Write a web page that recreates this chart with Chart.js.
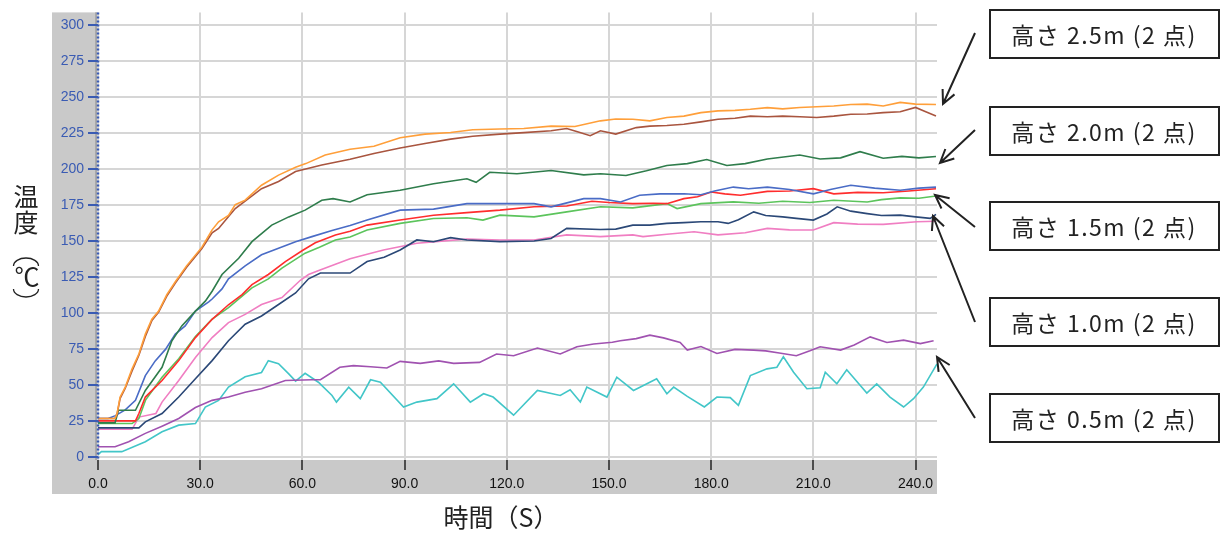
<!DOCTYPE html>
<html>
<head>
<meta charset="utf-8">
<script src="https://cdn.jsdelivr.net/npm/chart.js"></script>
<style>
  body { margin: 0; background: #fff; }
  #chart { display: block; }
</style>
</head>
<body>
<canvas id="chart" width="1226" height="533"></canvas>
<script>
// time (s) / temperature (℃) readings per thermocouple
const orangeT = [0, 5, 5.6, 6.5, 8, 10, 12, 13.9, 15.8, 17.8, 20.2, 22.7, 26, 30.5, 33.5, 35.4, 38.3, 40.3, 43.2, 48, 53, 58, 61, 66.7, 74, 81, 88.7, 96, 103.5, 110, 118, 125, 133, 140, 147.5, 152, 157, 162, 167, 172, 177, 182, 187, 191.5, 196.5, 201, 206, 211, 216, 221, 225.8, 230.5, 235.5, 240, 246];
const orangeV = [27, 27, 30.6, 42, 48.8, 61.5, 71.8, 85.6, 95.9, 101.6, 113.1, 122, 133, 146, 158, 163.6, 168, 175.5, 178.6, 189, 196, 201.5, 204, 210, 214, 216, 222, 224.5, 225.6, 227.5, 228, 228.4, 230, 229.8, 233.7, 235, 234.8, 233.7, 236, 237, 239.4, 240.6, 241, 241.7, 242.9, 242, 243, 243.5, 244, 245, 245.3, 244, 246.5, 245.3, 245];

const brownT = [0, 5, 5.6, 6.5, 8, 10, 12, 13.9, 15.8, 17.8, 20.2, 22.7, 26, 30.5, 33.5, 35.4, 40.3, 48, 53, 58, 65.7, 74, 81, 88.7, 96, 103.5, 110, 118, 125, 133, 137.6, 141, 144.5, 147.5, 152, 158, 162, 167, 172, 177, 182, 187, 191.5, 196.5, 201, 206, 211, 216, 221, 225.8, 230.5, 235.5, 240, 243, 246];
const brownV = [27, 27, 30, 41, 48, 60, 71, 84, 95, 101, 112, 121, 132, 145, 156, 159, 172.8, 186.6, 191.6, 198.5, 203, 207, 211, 214.8, 218, 221, 223, 224.5, 225.5, 226.8, 228.4, 226, 223.4, 226.8, 224.5, 229, 230, 230.5, 231.3, 233, 234.8, 235.5, 237, 236.5, 237, 236.5, 236, 237, 238.3, 238.5, 239.4, 240, 243, 240, 237];

const dgreenT = [0, 5, 6, 11, 13.9, 18.8, 21.7, 24.6, 28.6, 31.5, 33.5, 36.4, 41.3, 45.2, 51, 56, 60.8, 65.7, 69, 74, 79, 88.7, 98.5, 108.3, 111, 115, 123, 133, 142.6, 147.5, 155, 161, 167, 173, 178.7, 184.6, 190, 196.5, 206, 212, 218, 223.7, 230.5, 236, 241, 246];
const dgreenV = [24, 24, 32.7, 32.7, 46.5, 62.6, 81, 91.3, 101.6, 108.5, 115.4, 127, 138.3, 149.8, 161.3, 167, 171.7, 178.6, 179.7, 177.4, 182.4, 185.5, 190, 193.5, 191, 198, 197, 199.2, 196.2, 197, 195.8, 199, 202.7, 204, 206.8, 202.7, 204, 207.2, 210, 207.2, 208, 212.3, 207.7, 209, 208, 208.9];

const blueT = [0, 3, 5.1, 8, 11, 13.9, 16.8, 19.8, 22.7, 25.6, 28.6, 32.5, 33.5, 36.4, 38.3, 43.2, 48, 53, 58, 62.8, 68.7, 74, 79, 88.7, 98.5, 108.3, 118, 128, 133, 142.6, 147.5, 153.4, 159, 165, 172, 177, 181, 186.5, 191, 196.5, 203, 210, 215, 221, 228, 235.5, 241, 246];
const blueV = [27, 27, 29, 33, 39.6, 56.8, 67, 75, 85.6, 91.3, 101.6, 108, 110, 117, 124, 133, 140.7, 145.2, 149.8, 153.3, 157.5, 161, 164.8, 171.7, 172.4, 176.2, 176.2, 176.2, 174, 179.7, 179.7, 177.4, 182, 183, 183.1, 182.4, 185, 187.7, 186.5, 187.7, 186, 183, 186, 189, 187, 185.5, 187, 187.7];

const redT = [0, 11, 12, 13.9, 18.8, 23.7, 28.6, 33.5, 38.3, 42.3, 45.2, 50, 55, 59.9, 63.8, 69.7, 74, 79, 88.7, 98.5, 108.3, 118, 128, 137.6, 145, 150, 157, 163, 167, 172, 176, 180, 184, 188.6, 196.5, 203, 210, 216, 223, 230.5, 238, 246];
const redV = [25.4, 25.4, 30.5, 41.9, 53.4, 67.2, 83.2, 95.9, 106, 113, 120, 127, 136, 143.5, 149, 154.5, 157, 161.3, 164.8, 168.2, 170, 171.7, 174, 174.6, 177.9, 177, 176.2, 176.5, 176.2, 179.7, 181, 184.3, 183, 182, 184.7, 185, 186.6, 183, 184, 183.8, 185, 186.6];

const lgreenT = [0, 10, 12, 14, 18.8, 23.7, 28.6, 33.5, 38.3, 45.2, 50, 54, 60.8, 65, 69.7, 74, 79, 88.7, 98.5, 108.3, 113, 118, 128, 137.6, 147.5, 157, 167, 170, 177, 186.5, 194, 201, 209, 216, 225.8, 230, 235.5, 241, 246];
const lgreenV = [23.5, 23.5, 27, 40, 55.7, 68.5, 84, 96, 104, 117.7, 124, 131.5, 141.8, 146, 151, 153, 157.9, 162.5, 165.9, 166.4, 164.8, 168.2, 167, 170.5, 174, 173.3, 176.2, 172.8, 176.2, 177.4, 176.5, 177.9, 177, 178.6, 177.4, 179, 180.2, 180, 181.5];

const navyT = [0, 12, 13.9, 18.8, 23.7, 28.6, 33.5, 38.3, 43.2, 48, 53, 58, 61.8, 65.3, 69.7, 74, 79, 84, 88.7, 93.6, 98.5, 103.5, 108.3, 118, 128, 133, 137.6, 147.5, 152, 157, 162, 167, 172, 177, 182, 185, 188, 192.5, 196, 201, 205, 210, 214, 217, 221, 225.8, 230, 235.5, 240, 244.3, 246];
const navyV = [20.5, 20.5, 24.7, 30.5, 41.9, 54.6, 67.2, 81, 92.5, 98.2, 106.2, 114.2, 124, 128, 128, 128, 136, 139, 144, 151, 149.8, 152.6, 151, 149.8, 150.3, 152, 159, 158.3, 158.5, 161.3, 161.3, 162.5, 163, 163.6, 163.6, 162.5, 165, 170.5, 168, 167, 166, 164.8, 169, 174, 171, 169.3, 168, 168.2, 167, 166, 168.7];

const pinkT = [0, 10, 12, 17, 18.8, 23.7, 28.6, 33.5, 38.3, 43.2, 48, 54, 59.4, 61.8, 65, 69.5, 74, 79, 83.8, 93.6, 100, 108.3, 118, 128, 137.6, 147.5, 157, 160, 167, 175, 182, 190, 196.5, 203, 210, 216, 223, 230.5, 240.4, 246];
const pinkV = [19.5, 19.5, 28, 30.5, 38.4, 53.4, 69.4, 83.2, 93.6, 99.3, 106.2, 111, 123, 127, 130, 134, 138, 141, 144, 148.7, 150, 151.7, 151, 151, 154.5, 153.3, 154.5, 153.3, 155, 156.7, 154.5, 156, 159, 158, 157.9, 163, 162, 161.8, 163.6, 164];

const purpleT = [0, 5, 9, 13.9, 18.8, 23.7, 28.6, 33.5, 38.3, 43.2, 48, 55, 62.8, 65.3, 71, 75, 80, 84.8, 88.7, 94.6, 100, 104.4, 112, 117, 122, 129, 135.7, 140.6, 145.5, 151, 153.3, 158, 162, 166, 170.9, 173, 177, 181.7, 187, 192.5, 196, 200, 205, 209, 212, 218, 222, 226.7, 231.6, 236.5, 241.4, 245.3];
const purpleV = [7.4, 7.4, 10.9, 16.7, 21.7, 27, 34.6, 39.6, 41.9, 45.3, 47.7, 53.4, 53.9, 53.9, 62.6, 63.7, 63, 62.1, 66.7, 65.3, 67, 65.3, 66, 71.8, 70.6, 75.9, 71.8, 76.8, 78.7, 80, 81, 82.5, 84.9, 83, 79.8, 74.5, 77, 72.2, 75, 74.5, 74, 72.5, 70.6, 74, 76.8, 74.5, 78, 83.7, 79.8, 81.4, 79, 81];

const cyanT = [0, 1, 3, 7, 13.9, 18.8, 23.7, 28.6, 31.5, 35.4, 38.3, 43.2, 48, 50, 53, 56, 58, 60.8, 64.7, 68.7, 70, 73.6, 77, 80, 82.9, 89.7, 93.6, 99.5, 104.4, 109.3, 113.2, 116, 122, 129, 135.7, 138.6, 141.6, 143.5, 149.4, 152.3, 157.2, 162, 164, 167, 169, 173, 178, 181.7, 185.6, 188, 191.5, 196.4, 199.3, 201.2, 204.2, 208.1, 212, 213.5, 216.9, 219.8, 225.7, 228.6, 232.5, 236.5, 239.4, 242.3, 246.3];
const cyanV = [2, 4, 4, 4, 10.9, 17.8, 22.4, 23.5, 35, 39.6, 48.8, 56, 59, 67.2, 65, 58, 53, 58.4, 52.2, 43, 38.4, 48.8, 40.8, 53.9, 52.2, 35, 38.4, 40.8, 51.1, 38.4, 44.2, 41.9, 29.3, 46.5, 43, 47, 38.4, 48.8, 41.9, 55.7, 46.5, 52.2, 54.6, 44.2, 48.8, 42.4, 35, 41.9, 41.5, 36.2, 56.8, 61.5, 62.6, 69.9, 59.1, 47.7, 48.4, 59.1, 51.1, 60.8, 44.7, 51.1, 41.9, 35, 40.8, 48.8, 64.9];

const xTicks = [0, 30, 60, 90, 120, 150, 180, 210, 240];
const yTicks = [0, 25, 50, 75, 100, 125, 150, 175, 200, 225, 250, 275, 300];

const heightLabels = ["高さ 2.5m (2 点)", "高さ 2.0m (2 点)", "高さ 1.5m (2 点)", "高さ 1.0m (2 点)", "高さ 0.5m (2 点)"];

function pts(T, V) {
    return T.map((t, i) => ({ x: t, y: V[i] }));
}

function line(data, color) {
    return {
        data: data,
        borderColor: color,
        borderWidth: 1.6,
        pointRadius: 0,
        tension: 0,
        fill: false
    };
}

const cjk = '"Noto Sans CJK JP", sans-serif';

// gray frame, dotted axis, titles, label boxes and arrows
const decor = {
    id: "decor",
    beforeDraw(chart) {
        const ctx = chart.ctx;
        const a = chart.chartArea;
        ctx.save();
        ctx.fillStyle = "#c9c9c9";
        ctx.fillRect(52, a.top, a.left - 52, 494 - a.top);
        ctx.fillRect(52, a.bottom, a.right - 52, 494 - a.bottom);
        ctx.fillStyle = "#a9a9a9";
        ctx.fillRect(a.left - 3, a.top, 2, a.bottom - a.top);
        ctx.restore();
    },
    afterDraw(chart) {
        const ctx = chart.ctx;
        const a = chart.chartArea;
        ctx.save();

        // dotted blue y axis line
        ctx.strokeStyle = "#3a5bb3";
        ctx.lineWidth = 2.5;
        ctx.setLineDash([2, 2]);
        ctx.beginPath();
        ctx.moveTo(a.left, a.top);
        ctx.lineTo(a.left, a.bottom);
        ctx.stroke();
        ctx.setLineDash([]);

        ctx.fillStyle = "#222";
        ctx.strokeStyle = "#222";
        ctx.textAlign = "center";
        ctx.textBaseline = "middle";

        // axis titles
        ctx.font = "25px " + cjk;
        ctx.fillText("時間（S）", 501, 517);
        ctx.fillText("温", 26, 196);
        ctx.fillText("度", 26, 222);
        ctx.fillText("℃", 27, 276);
        ctx.lineWidth = 1.3;
        ctx.beginPath();
        ctx.ellipse(26, 266, 12.5, 8, 0, Math.PI, 2 * Math.PI);
        ctx.stroke();
        ctx.beginPath();
        ctx.ellipse(26, 289, 12.5, 8, 0, 0, Math.PI);
        ctx.stroke();

        // label boxes
        const tops = [10, 107, 202, 298, 394];
        ctx.lineWidth = 2;
        ctx.font = "23px " + cjk;
        ctx.letterSpacing = "1.5px";
        heightLabels.forEach((txt, i) => {
            ctx.strokeRect(990, tops[i], 229, 48);
            ctx.fillText(txt, 1104, tops[i] + 25);
        });
        ctx.letterSpacing = "0px";

        // arrows
        const arrows = [
            [975, 33, 943, 104],
            [975, 130, 940, 163],
            [975, 227, 935, 195],
            [975, 322, 933, 216],
            [975, 418, 937, 357]
        ];
        ctx.lineWidth = 2;
        arrows.forEach(([x1, y1, x2, y2]) => {
            const ang = Math.atan2(y2 - y1, x2 - x1);
            const h = 15;
            ctx.beginPath();
            ctx.moveTo(x1, y1);
            ctx.lineTo(x2, y2);
            ctx.moveTo(x2 - h * Math.cos(ang - 0.45), y2 - h * Math.sin(ang - 0.45));
            ctx.lineTo(x2, y2);
            ctx.lineTo(x2 - h * Math.cos(ang + 0.45), y2 - h * Math.sin(ang + 0.45));
            ctx.stroke();
        });
        ctx.restore();
    }
};

new Chart(document.getElementById("chart"), {
    type: "line",
    data: {
        datasets: [
            line(pts(orangeT, orangeV), "#ff9f3a"),
            line(pts(brownT, brownV), "#a9553f"),
            line(pts(dgreenT, dgreenV), "#2f7d4c"),
            line(pts(blueT, blueV), "#4a6cc6"),
            line(pts(redT, redV), "#ff2d2d"),
            line(pts(lgreenT, lgreenV), "#5cc45c"),
            line(pts(navyT, navyV), "#2b4877"),
            line(pts(pinkT, pinkV), "#f07ec2"),
            line(pts(purpleT, purpleV), "#a052b0"),
            line(pts(cyanT, cyanV), "#42c6c8")
        ]
    },
    options: {
        responsive: false,
        animation: false,
        devicePixelRatio: 1,
        layout: { padding: { left: 52, right: 289, top: 10, bottom: 39 } },
        plugins: {
            legend: { display: false },
            tooltip: { enabled: false }
        },
        scales: {
            x: {
                type: "linear",
                min: 0,
                max: 246.3,
                afterFit: (s) => { s.height = 34; },
                afterBuildTicks: (s) => { s.ticks = xTicks.map(v => ({ value: v })); },
                ticks: {
                    includeBounds: false,
                    maxRotation: 0,
                    padding: 6,
                    color: "#111",
                    font: { family: "Liberation Sans", size: 14 },
                    callback: (v) => v.toFixed(1)
                },
                grid: { color: "#d6d6d6", lineWidth: 2, tickColor: "#222", tickWidth: 1.5, tickLength: 10 },
                border: { display: false }
            },
            y: {
                min: -1.8,
                max: 309,
                afterFit: (s) => { s.width = 46; },
                afterBuildTicks: (s) => { s.ticks = yTicks.map(v => ({ value: v })); },
                ticks: {
                    includeBounds: false,
                    padding: 4,
                    color: "#3a5bb3",
                    font: { family: "Liberation Sans", size: 14 }
                },
                grid: { color: "#d6d6d6", lineWidth: 2, tickColor: "#3a5bb3", tickWidth: 2, tickLength: 10 },
                border: { display: false }
            }
        }
    },
    plugins: [decor]
});
</script>
</body>
</html>
